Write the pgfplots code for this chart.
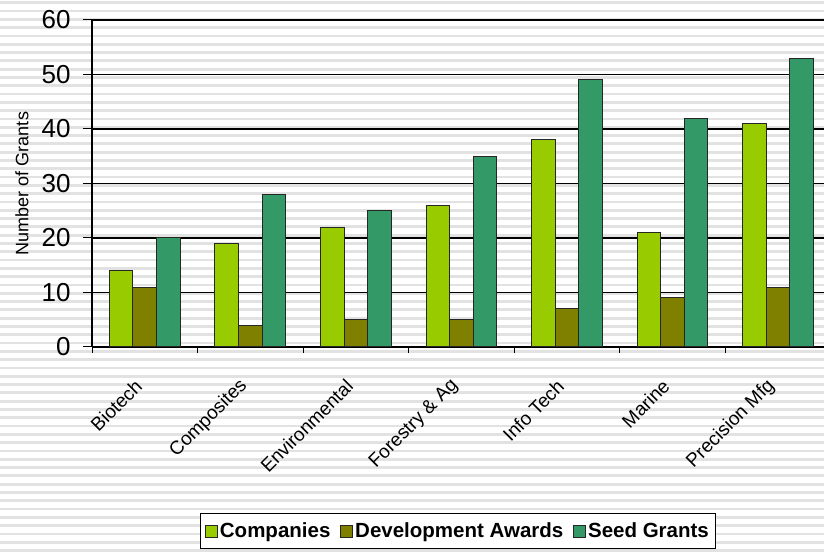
\documentclass[border=0pt]{standalone}
\usepackage{pgfplots}
\pgfplotsset{compat=1.18}
\usepackage{fontspec}
\setmainfont{Liberation Sans}
\definecolor{cComp}{HTML}{99CC00}
\definecolor{cDev}{HTML}{808000}
\definecolor{cSeed}{HTML}{339966}
\definecolor{stripe}{HTML}{E2E2E2}
\begin{document}
\begin{tikzpicture}
\path[use as bounding box] (0,0) rectangle (824bp,553bp);
\fill[white] (0,0) rectangle (824bp,553bp);
\foreach \i in {0,...,66} {\fill[stripe] (0,\i*8.3bp+1bp) rectangle (824bp,\i*8.3bp+3.8bp);}
\begin{axis}[
  at={(92bp,206bp)}, anchor=south west,
  scale only axis, width=738.5bp, height=327bp,
  ymin=0, ymax=60, ytick={0,10,...,60},
  xmin=-0.5, xmax=6.5,
  xtick={0,...,6},
  xticklabels={Biotech,Composites,Environmental,{Forestry \& Ag},Info Tech,Marine,Precision Mfg},
  minor xtick={-0.5,0.5,...,6.5},
  major x tick style={draw=none},
  minor tick length=6bp, major tick length=9bp,
  tick align=outside, tick pos=left,
  axis lines*=left,
  axis line style={black, line width=1.5bp},
  tick style={black, line width=1bp},
  ymajorgrids, grid style={black, line width=1.2bp},
  ybar=0pt, bar width=23.5bp,
  /pgf/number format/assume math mode=true,
  yticklabel style={xshift=-9bp, font=\fontsize{26bp}{30bp}\selectfont},
  xticklabel style={yshift=-27bp, xshift=-6bp, rotate=45, anchor=east, inner sep=0pt, font=\fontsize{19bp}{22bp}\selectfont},
  ylabel={Number of Grants},
  ylabel style={at={(axis description cs:0,0.5)}, anchor=center, yshift=70bp, font=\fontsize{18bp}{22bp}\selectfont},
  legend style={at={(axis description cs:0.4956,-0.5627)}, anchor=center, legend columns=3, draw=black, line width=1.2bp,
    font=\bfseries\fontsize{20.5bp}{24bp}\selectfont, /tikz/every even column/.append style={column sep=8bp}, inner xsep=5bp, inner ysep=7bp},
  legend image code/.code={\draw[#1,line width=0.8bp] (0bp,-6bp) rectangle (12bp,6bp);},
]
\addplot[fill=cComp, draw=black!85, line width=1bp] coordinates {(0,14)(1,19)(2,22)(3,26)(4,38)(5,21)(6,41)};
\addplot[fill=cDev, draw=black!85, line width=1bp] coordinates {(0,11)(1,4)(2,5)(3,5)(4,7)(5,9)(6,11)};
\addplot[fill=cSeed, draw=black!85, line width=1bp] coordinates {(0,20)(1,28)(2,25)(3,35)(4,49)(5,42)(6,53)};
\addlegendentry{Companies}
\addlegendentry{Development Awards}
\addlegendentry{Seed Grants}
\end{axis}
\end{tikzpicture}
\end{document}
